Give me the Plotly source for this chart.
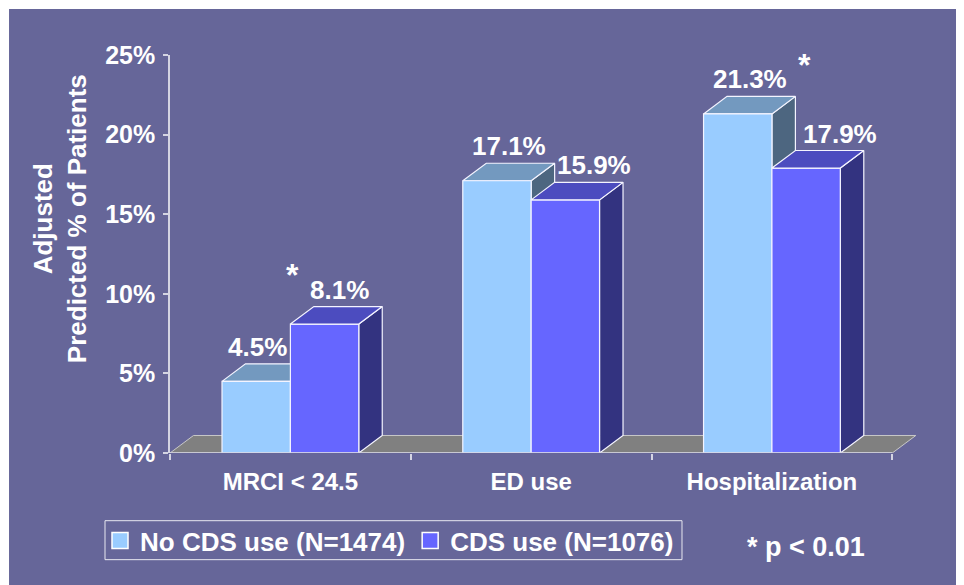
import plotly.graph_objects as go

# ---------------- data ----------------
categories = ["MRCI < 24.5", "ED use", "Hospitalization"]
no_cds_use = [4.5, 17.1, 21.3]
cds_use = [8.1, 15.9, 17.9]
series_names = ["No CDS use (N=1474)", "CDS use (N=1076)"]
significant = [True, False, True]
y_tick_values = [0, 5, 10, 15, 20, 25]
footnote = "* p < 0.01"
y_title = "Adjusted<br>Predicted % of Patients"

# ---------------- style ----------------
BG = "#666699"
FONT = "Liberation Sans, Arial, sans-serif"
AXIS_COL = "#D4D4E2"
LIGHT = dict(front="#99CCFF", top="#7399BF", side="#4D6680")
DARK = dict(front="#6666FF", top="#4C4CBF", side="#333380")
FLOOR = "#808080"
EDGE = "#F4F4FF"

W = 0.284     # bar width (category units)
DX = 0.0975   # 3-D depth, x (category units)
DY = 1.1      # 3-D depth, y (percentage points)

xc = list(range(len(categories)))


def faces(x0, x1, v):
    front = [(x0, 0), (x1, 0), (x1, v), (x0, v)]
    top = [(x0, v), (x1, v), (x1 + DX, v + DY), (x0 + DX, v + DY)]
    side = [(x1, 0), (x1 + DX, DY), (x1 + DX, v + DY), (x1, v)]
    return dict(front=front, top=top, side=side)


def poly_trace(polys, color, lw=1.2, lc=EDGE):
    xs, ys = [], []
    for p in polys:
        for (a, b) in p + [p[0]]:
            xs.append(a)
            ys.append(b)
        xs.append(None)
        ys.append(None)
    return go.Scatter(x=xs, y=ys, mode="lines", fill="toself", fillcolor=color,
                      line=dict(color=lc, width=lw), hoverinfo="skip", showlegend=False)


light = [faces(c - W, c, v) for c, v in zip(xc, no_cds_use)]
dark = [faces(c, c + W, v) for c, v in zip(xc, cds_use)]

fig = go.Figure()

# floor
x_lo, x_hi = -0.5, len(categories) - 0.5
fig.add_trace(poly_trace([[(x_lo, 0), (x_hi, 0), (x_hi + DX, DY), (x_lo + DX, DY)]],
                         FLOOR, lw=1, lc="#C8C8C8"))

# bars (drawn back to front)
fig.add_trace(poly_trace([f["side"] for f in light], LIGHT["side"]))
fig.add_trace(poly_trace([f["top"] for f in light], LIGHT["top"]))
fig.add_trace(poly_trace([f["front"] for f in light], LIGHT["front"]))
fig.add_trace(poly_trace([f["side"] for f in dark], DARK["side"]))
fig.add_trace(poly_trace([f["front"] for f in dark], DARK["front"]))
fig.add_trace(poly_trace([f["top"] for f in dark], DARK["top"]))

# legend entries
for name, col in zip(series_names, [LIGHT["front"], DARK["front"]]):
    fig.add_trace(go.Scatter(x=[None], y=[None], mode="markers", name=name,
                             marker=dict(symbol="square", size=16, color=col,
                                         line=dict(color="white", width=1.5))))

annotations = []
# value labels
label_shift_light = [-10, 0, 1]
label_shift_dark = [3, 17, 22]
for i, c in enumerate(xc):
    for v, x, sh in [(no_cds_use[i], c - W / 2 + DX / 2, label_shift_light[i]),
                     (cds_use[i], c + W / 2 + DX / 2, label_shift_dark[i])]:
        annotations.append(dict(x=x, y=v + DY, xref="x", yref="y", text=f"{v:.1f}%",
                                showarrow=False, xanchor="center", yanchor="bottom",
                                xshift=sh, yshift=0,
                                font=dict(family=FONT, size=26, color="white", weight="bold")))

# significance asterisks
star_pos = {0: (0.01, 11.2), 2: (0.135, 24.4)}
for i, sig in enumerate(significant):
    if sig:
        dxs, ys = star_pos[i]
        annotations.append(dict(x=xc[i] + dxs, y=ys, xref="x", yref="y", text="*",
                                showarrow=False, xanchor="center", yanchor="middle",
                                font=dict(family=FONT, size=32, color="white", weight="bold")))

# y title
annotations.append(dict(x=-0.147, y=0.588, xref="paper", yref="paper", text=y_title,
                        showarrow=False, textangle=-90, xanchor="center", yanchor="middle",
                        font=dict(family=FONT, size=26, color="white", weight="bold")))
# footnote
annotations.append(dict(x=0.8514, y=-0.2374, xref="paper", yref="paper", text=footnote,
                        showarrow=False, xanchor="center", yanchor="middle",
                        font=dict(family=FONT, size=27, color="white", weight="bold")))

shapes = [
    dict(type="rect", xref="paper", yref="paper", x0=-0.2155, x1=1.07, y0=-0.34, y1=1.1156,
         fillcolor=BG, line=dict(width=0), layer="below"),
    dict(type="line", xref="x", yref="y", x0=x_lo, x1=x_hi, y0=0, y1=0,
         line=dict(color=AXIS_COL, width=1.5), layer="above"),
    # legend frame
    dict(type="rect", xref="paper", yref="paper", x0=-0.087, x1=0.6854, y0=-0.268, y1=-0.1701,
         line=dict(color="#E8E8F0", width=1), fillcolor="rgba(0,0,0,0)", layer="above"),
]

fig.update_layout(
    width=956, height=577,
    margin=dict(l=162, r=47, t=47, b=132, pad=0),
    paper_bgcolor="white", plot_bgcolor=BG,
    font=dict(family=FONT, color="white"),
    showlegend=True,
    legend=dict(orientation="h", x=-0.0937, y=-0.2204, xanchor="left", yanchor="middle",
                bgcolor="rgba(0,0,0,0)", borderwidth=0,
                font=dict(family=FONT, size=26, color="white", weight="bold")),
    annotations=annotations,
    shapes=shapes,
    xaxis=dict(range=[x_lo, x_hi + DX + 0.005], showline=False, showgrid=False, zeroline=False,
               tickmode="array", tickvals=xc, ticktext=categories, ticks="",
               ticklabelstandoff=12,
               tickfont=dict(family=FONT, size=24, color="white", weight="bold"),
               minor=dict(tickmode="array", tickvals=[x_lo + k for k in range(len(categories) + 1)],
                          ticks="outside", ticklen=6, tickwidth=1.5, tickcolor=AXIS_COL),
               fixedrange=True),
    yaxis=dict(range=[0, 25], showline=True, linecolor=AXIS_COL, linewidth=1.5,
               showgrid=False, zeroline=False, tickmode="array", tickvals=y_tick_values,
               ticktext=[f"{v}%" for v in y_tick_values], ticks="outside", ticklen=5,
               tickwidth=1.5, tickcolor=AXIS_COL, ticklabelstandoff=3,
               tickfont=dict(family=FONT, size=25, color="white", weight="bold"),
               fixedrange=True),
)

fig.write_html("out.html")
